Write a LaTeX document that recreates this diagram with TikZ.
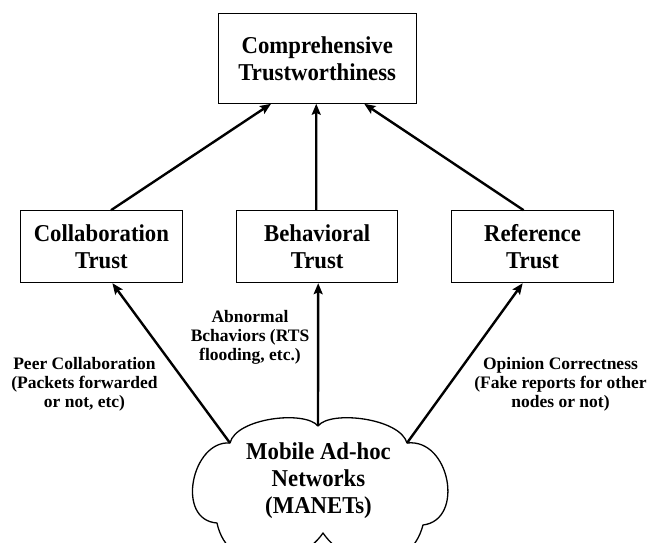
\documentclass[tikz,border=0pt]{standalone}
\usepackage{fontspec}
\setmainfont{Liberation Serif}
\newfontfamily\tallserif{Liberation Serif}[FakeStretch=0.94]
\usetikzlibrary{arrows.meta}
\begin{document}
\begin{tikzpicture}[x=1pt,y=-1pt,
  bigtext/.style={align=center,font=\tallserif\bfseries\fontsize{24.2}{27}\selectfont},
  topbox/.style={bigtext,draw,line width=1pt,minimum width=197.5pt,minimum height=90pt,inner sep=0pt},
  trustbox/.style={bigtext,draw,line width=1pt,minimum width=161.5pt,minimum height=72pt,inner sep=0pt},
  lbl/.style={align=center,inner sep=0pt,font=\bfseries\fontsize{17.5}{19}\selectfont},
  arr/.style={line width=2.4pt,-{Stealth[length=11pt,width=9pt,inset=2pt]}},
  cloudline/.style={line width=1.3pt,line join=round}]
  % canvas
  \fill[white] (0,0) rectangle (649,543);
  \useasboundingbox (0,0) rectangle (649,543);
  \clip (0,0) rectangle (649,543);

  % boxes
  \node[topbox] (top) at (317.25,58.3) {Comprehensive\\Trustworthiness};
  \node[trustbox] (cl) at (101.4,246.7) {Collaboration\\Trust};
  \node[trustbox] (bt) at (317.2,246.7) {Behavioral\\Trust};
  \node[trustbox] (rt) at (532.5,246.7) {Reference\\Trust};

  % cloud notches where the connectors start
  \coordinate (nl) at (230,443);
  \coordinate (nm) at (318,426);
  \coordinate (nr) at (407,443);
  \coordinate (nlr) at (423,525);
  \coordinate (nb) at (323,533);
  \coordinate (nll) at (217,523);

  % cloud outline
  \draw[cloudline] (nl)
    .. controls (236,418) and (305,410) .. (nm)
    .. controls (330,410) and (400,418) .. (nr)
    .. controls (450,438) and (465,520) .. (nlr)
    .. controls (410,575) and (350,572) .. (nb)
    .. controls (296,572) and (228,575) .. (nll)
    .. controls (175,520) and (192,440) .. (nl) -- cycle;
  \node[bigtext] (manet) at (318.5,481) {Mobile Ad-hoc\\Networks\\(MANETs)};

  % edge labels
  \node[lbl] (peer) at (84.5,384.5) {Peer Collaboration\\(Packets forwarded\\or not, etc)};
  \node[lbl] (abn) at (250,337.5) {Abnormal\\Bchaviors (RTS\\flooding, etc.)};
  \node[lbl] (opin) at (560.5,384.5) {Opinion Correctness\\(Fake reports for other\\nodes or not)};

  % trust components feed the overall trust
  \draw[arr] ([xshift=9.6pt]cl.north) -- ([xshift=-46.2pt]top.south);
  \draw[arr] ([xshift=-1pt]bt.north) -- ([xshift=-1pt]top.south);
  \draw[arr] ([xshift=-8.9pt]rt.north) -- ([xshift=47pt]top.south);

  % the network feeds each trust component
  \draw[arr] (nl) -- ([xshift=11pt]cl.south);
  \draw[arr] (nm) -- ([xshift=1pt]bt.south);
  \draw[arr] (nr) -- ([xshift=-9.8pt]rt.south);
\end{tikzpicture}
\end{document}
